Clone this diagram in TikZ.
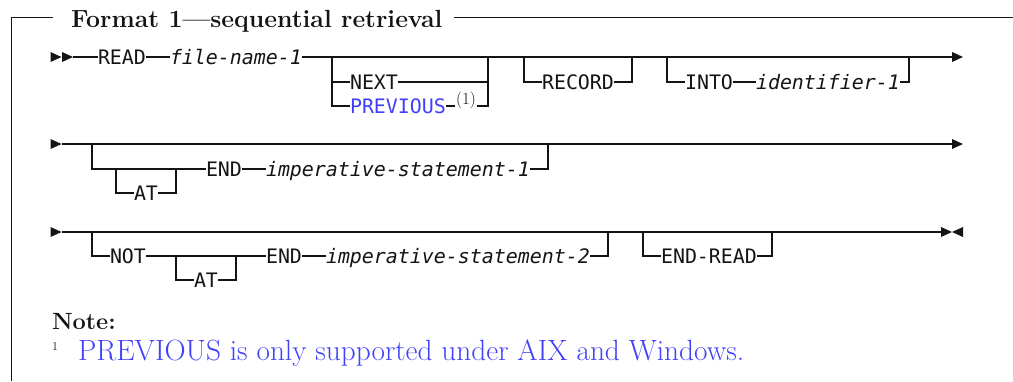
\documentclass[tikz,border=0pt]{standalone}
\usepackage{fontspec}
\newfontfamily\monof{DejaVu Sans Mono}
\definecolor{linkblue}{RGB}{64,64,250}
\definecolor{ink}{RGB}{20,20,20}
\begin{document}
\begin{tikzpicture}[x=1pt,y=-1pt,
  every node/.style={inner sep=0pt,outer sep=0pt},
  kw/.style={font=\monof\fontsize{19.93}{24}\selectfont,text=ink,text height=14.6pt,text depth=0pt,anchor=west},
  var/.style={kw,font=\monof\itshape\fontsize{19.93}{24}\selectfont},
  rail/.style={line width=1.5pt,draw=ink},
  tipf/.style={fill=ink},
  frame/.style={line width=1.3pt,draw=ink},
  titlef/.style={font=\bfseries\fontsize{24.8}{29}\selectfont,text=ink,anchor=base west},
  notef/.style={font=\bfseries\fontsize{23.5}{28}\selectfont,text=ink,anchor=base west},
  fnum/.style={font=\fontsize{12}{14}\selectfont,text=ink,anchor=base west},
  fntext/.style={font=\fontsize{29.3}{34}\selectfont,text=linkblue,anchor=base west},
  supf/.style={font=\fontsize{17}{19}\selectfont,text=ink,fill=white,inner sep=0.8pt}
]
\useasboundingbox (0,0) rectangle (1013,381);

% frame and title
\coordinate (f0) at (11.5,381);
\coordinate (f1) at (11.5,17.5);
\coordinate (f2) at (53,17.5);
\coordinate (f3) at (1013,17.5);
\node[titlef] (title) at (71,27) {Format 1—sequential retrieval};
\path (title.east) ++(12,0) coordinate (t1);
\draw[frame] (f0) -- (f1) -- (f2);
\draw[frame] (t1 |- f3) -- (f3);

% ---------------- row 1
\fill[tipf] (50.5,52) -- (61.5,57) -- (50.5,62) -- cycle;
\fill[tipf] (62,52) -- (73,57) -- (62,62) -- cycle;
\coordinate (r1s) at (73,57);
\coordinate (r1e) at (952,57);
\node[kw] (read) at (98,57) {READ};
\node[var] (fn1) at (170,57) {file-name-1};
\draw[rail] (r1s) -- (read.west) (read.east) -- (fn1.west) (fn1.east) -- (r1e);
\fill[tipf] (952,52) -- (963,57) -- (952,62) -- cycle;

% NEXT / PREVIOUS
\coordinate (b1l) at (332,57);
\coordinate (b1r) at (488,57);
\node[kw] (next) at (350,82) {NEXT};
\node[kw,text=linkblue] (prev) at (350,106) {PREVIOUS};
\draw[rail] (b1l) |- (prev.west) (next.west -| b1l) -- (next.west)
  (next.east) -- (next.east -| b1r) (prev.east) -| (b1r);
\node[supf] (sup1) at (466,100) {(1)};

% RECORD
\coordinate (b2l) at (524,57);
\coordinate (b2r) at (632,57);
\node[kw] (rec) at (542,82) {RECORD};
\draw[rail] (b2l) |- (rec.west) (rec.east) -| (b2r);

% INTO identifier-1
\coordinate (b3l) at (667,57);
\coordinate (b3r) at (909,57);
\node[kw] (into) at (685,82) {INTO};
\node[var] (id1) at (756,82) {identifier-1};
\draw[rail] (b3l) |- (into.west) (into.east) -- (id1.west) (id1.east) -| (b3r);

% ---------------- row 2
\fill[tipf] (50.5,139) -- (61.5,144) -- (50.5,149) -- cycle;
\coordinate (r2s) at (61.5,144);
\coordinate (r2e) at (952,144);
\draw[rail] (r2s) -- (r2e);
\fill[tipf] (952,139) -- (963,144) -- (952,149) -- cycle;
\coordinate (b4l) at (92,144);
\coordinate (b4r) at (548,144);
\coordinate (b5l) at (116,169);
\coordinate (b5r) at (176,169);
\node[kw] (at1) at (134,193) {AT};
\node[kw] (end1) at (206,169) {END};
\node[var] (is1) at (266,169) {imperative-statement-1};
\draw[rail] (b4l) |- (end1.west);
\draw[rail] (b5l) |- (at1.west) (at1.east) -| (b5r);
\draw[rail] (end1.east) -- (is1.west) (is1.east) -| (b4r);

% ---------------- row 3
\fill[tipf] (50.5,227) -- (61.5,232) -- (50.5,237) -- cycle;
\coordinate (r3s) at (61.5,232);
\coordinate (r3e) at (941,232);
\draw[rail] (r3s) -- (r3e);
\fill[tipf] (941,227) -- (952,232) -- (941,237) -- cycle;
\fill[tipf] (963,227) -- (952,232) -- (963,237) -- cycle;
\coordinate (b6l) at (92,232);
\coordinate (b6r) at (608,232);
\coordinate (b7l) at (176,256);
\coordinate (b7r) at (236,256);
\node[kw] (not) at (110,256) {NOT};
\node[kw] (at2) at (194,280) {AT};
\node[kw] (end2) at (266,256) {END};
\node[var] (is2) at (326,256) {imperative-statement-2};
\draw[rail] (b6l) |- (not.west) (not.east) -- (end2.west);
\draw[rail] (b7l) |- (at2.west) (at2.east) -| (b7r);
\draw[rail] (end2.east) -- (is2.west) (is2.east) -| (b6r);
\coordinate (b8l) at (643,232);
\coordinate (b8r) at (772,232);
\node[kw] (endread) at (661,256) {END-READ};
\draw[rail] (b8l) |- (endread.west) (endread.east) -| (b8r);

% ---------------- note
\node[notef] (note) at (52,329) {Note:};
\node[fnum] (fnm) at (52,350) {1};
\node[fntext] (fnt) at (78,360) {PREVIOUS is only supported under AIX and Windows.};
\end{tikzpicture}
\end{document}
